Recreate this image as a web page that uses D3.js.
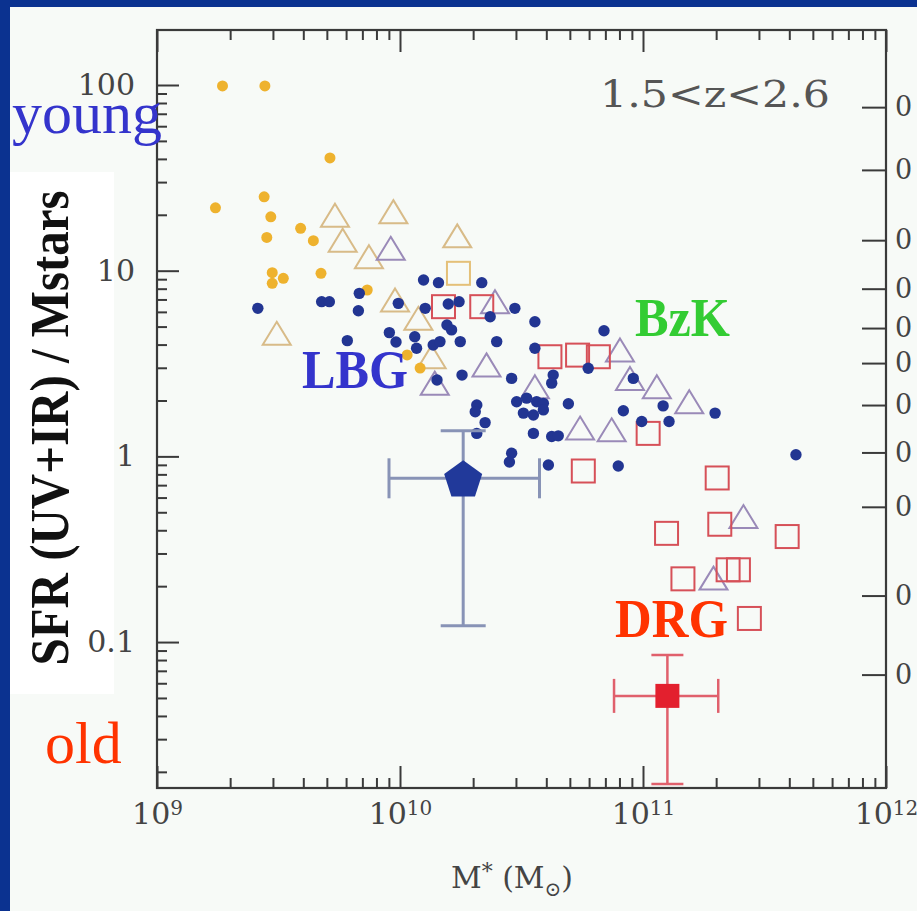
<!DOCTYPE html>
<html>
<head>
<meta charset="utf-8">
<script src="https://cdn.jsdelivr.net/npm/d3@7"></script>
<style>
  html, body { margin: 0; padding: 0; background: #f7faf7; overflow: hidden; }
  svg { display: block; }
</style>
</head>
<body>
<svg id="chart" width="917" height="911"></svg>
<script>
// Stellar mass (M_sun) and specific SFR for each galaxy sample, 1.5 < z < 2.6
const yellowDots = [
  [1.86e9, 98.8], [2.78e9, 98.8], [5.15e9, 40.5], [1.74e9, 21.8], [2.76e9, 25.0],
  [2.94e9, 19.5], [2.83e9, 15.1], [3.90e9, 16.9], [4.40e9, 14.5], [2.98e9, 9.75],
  [2.98e9, 8.55], [3.31e9, 9.10], [4.73e9, 9.68], [7.33e9, 7.87], [1.21e10, 2.99],
  [1.07e10, 3.52]
];
const blueDots = [
  [1.25e10, 8.91], [1.44e10, 8.62], [2.60e9, 6.27], [4.76e9, 6.81], [5.12e9, 6.81],
  [6.80e9, 7.55], [6.74e9, 6.09], [9.84e9, 6.67], [1.27e10, 6.27], [1.58e10, 6.62],
  [6.07e9, 4.20], [9.04e9, 4.64], [9.63e9, 4.13], [1.15e10, 4.41], [1.17e10, 3.82],
  [1.37e10, 3.98], [1.56e10, 5.10], [2.17e10, 8.62], [1.75e10, 6.81], [2.97e10, 6.27],
  [2.35e10, 5.65], [3.59e10, 5.31], [1.63e10, 4.80], [1.46e10, 4.15], [1.77e10, 4.15],
  [2.50e10, 4.15], [3.59e10, 3.82], [1.80e10, 2.74], [2.88e10, 2.63], [4.27e10, 2.74],
  [4.21e10, 2.48], [1.42e10, 2.58], [2.07e10, 1.89], [2.04e10, 1.74], [3.02e10, 1.97],
  [3.32e10, 2.06], [3.65e10, 1.97], [3.89e10, 1.93], [3.22e10, 1.71], [3.54e10, 1.67],
  [3.89e10, 1.78], [4.93e10, 1.92], [2.24e10, 1.52], [2.07e10, 1.33], [3.54e10, 1.33],
  [4.21e10, 1.28], [4.48e10, 1.29], [2.88e10, 1.04], [2.82e10, 0.933], [4.08e10, 0.899],
  [7.91e10, 0.888], [6.91e10, 4.75], [5.95e10, 2.98], [9.12e10, 2.63], [8.30e10, 1.76],
  [1.21e11, 1.87], [1.28e11, 1.54], [1.98e11, 1.71], [9.88e10, 1.54], [4.26e11, 1.02]
];
const tanTriangles = [
  [5.40e9, 19.9], [9.39e9, 20.8], [5.81e9, 14.6], [7.45e9, 11.9], [3.11e9, 4.60],
  [9.54e9, 6.95], [1.19e10, 5.54], [1.72e10, 15.4], [1.35e10, 3.44]
];
const tanSquares = [[1.74e10, 9.68]];
const purpleTriangles = [
  [9.16e9, 13.2], [2.46e10, 6.81], [2.27e10, 3.11], [1.39e10, 2.48], [3.59e10, 2.37],
  [8.04e10, 3.74], [8.84e10, 2.63], [1.14e11, 2.37], [1.55e11, 1.97], [5.51e10, 1.42],
  [7.43e10, 1.39], [2.59e11, 0.474], [1.95e11, 0.221]
];
const redSquares = [
  [1.51e10, 6.40], [2.17e10, 6.40], [4.14e10, 3.44], [5.38e10, 3.51], [6.55e10, 3.44],
  [1.05e11, 1.33], [5.68e10, 0.834], [2.02e11, 0.765], [2.07e11, 0.431], [1.25e11, 0.385],
  [3.92e11, 0.370], [2.24e11, 0.245], [2.47e11, 0.245], [1.46e11, 0.219], [2.74e11, 0.134]
];
// Sample medians with their spreads: [mass, sSFR, massLow, massHigh, sSFRLow, sSFRHigh]
const lbgMedian = [1.82e10, 0.762, 9.01e9, 3.75e10, 0.1225, 1.375];
const drgMedian = [1.26e11, 0.0513, 7.6e10, 2.04e11, 0.0172, 0.0852];

// Axis ticks and labels
const xLabelTicks = [1e9, 1e10, 1e11, 1e12];
const yLabelTicks = [100, 10, 1, 0.1];
const yLabelText = ["100", "10", "1", "0.1"];
const rightTicks = [76, 34.9, 14.6, 8.0, 4.91, 3.18, 1.89, 1.05, 0.535, 0.178, 0.0668];
const rightTickText = ["0", "0", "0", "0", "0", "0", "0", "0", "0", "0", "0"];

const svg = d3.select("#chart");
const W = 917, H = 911;
const plot = { left: 157, right: 886, top: 30, bottom: 788 };

// Slide frame
svg.append("rect").attr("x", 0).attr("y", 0).attr("width", W).attr("height", H).attr("fill", "#f7faf7");
svg.append("rect").attr("x", 10).attr("y", 172).attr("width", 104).attr("height", 522).attr("fill", "#ffffff");
svg.append("rect").attr("x", 0).attr("y", 0).attr("width", 10).attr("height", H).attr("fill", "#0b3290");
svg.append("rect").attr("x", 0).attr("y", 0).attr("width", W).attr("height", 7).attr("fill", "#0b3290");

const x = d3.scaleLog().domain([1e9, 1e12]).range([plot.left, plot.right]);
const y = d3.scaleLog().domain([0.01637, 197.8]).range([plot.bottom, plot.top]);

const isMajor = d => Math.abs(Math.log10(d) - Math.round(Math.log10(d))) < 1e-6;
const xMinor = x.ticks().filter(d => !isMajor(d));
const yMinor = y.ticks().filter(d => !isMajor(d));

const axisColor = "#3a3a3a";
const tickFont = "'DejaVu Serif', serif";

function styleAxis(g) {
  g.select(".domain").remove();
  g.selectAll(".tick line").attr("stroke", axisColor).attr("stroke-width", 2);
  g.selectAll(".tick text").attr("fill", "#444").attr("font-family", tickFont).attr("font-size", 30);
}

// Bottom axis
svg.append("g").attr("transform", `translate(0,${plot.bottom})`)
  .call(d3.axisBottom(x).tickValues(xMinor).tickSize(-10).tickFormat(""))
  .call(styleAxis);
const xAxisG = svg.append("g").attr("transform", `translate(0,${plot.bottom})`)
  .call(d3.axisBottom(x).tickValues(xLabelTicks).tickSize(-22).tickPadding(36)
    .tickFormat(d => String(Math.round(Math.log10(d)))))
  .call(styleAxis);
xAxisG.selectAll(".tick text").each(function(d) {
  const t = d3.select(this);
  const exp = t.text();
  t.text("").attr("dy", 0).attr("text-anchor", "middle");
  t.append("tspan").text("10");
  t.append("tspan").attr("dy", "-0.45em").attr("font-size", 20).text(exp);
});

// Top axis
svg.append("g").attr("transform", `translate(0,${plot.top})`)
  .call(d3.axisTop(x).tickValues(xMinor).tickSize(-10).tickFormat(""))
  .call(styleAxis);
svg.append("g").attr("transform", `translate(0,${plot.top})`)
  .call(d3.axisTop(x).tickValues(xLabelTicks).tickSize(-22).tickFormat(""))
  .call(styleAxis);

// Left axis
svg.append("g").attr("transform", `translate(${plot.left},0)`)
  .call(d3.axisLeft(y).tickValues(yMinor).tickSize(-10).tickFormat(""))
  .call(styleAxis);
svg.append("g").attr("transform", `translate(${plot.left},0)`)
  .call(d3.axisLeft(y).tickValues(yLabelTicks).tickSize(-22).tickPadding(22)
    .tickFormat((d, i) => yLabelText[i]))
  .call(styleAxis);

// Right axis (secondary scale)
svg.append("g").attr("transform", `translate(${plot.right},0)`)
  .call(d3.axisRight(y).tickValues(rightTicks).tickSize(-24).tickPadding(9)
    .tickFormat((d, i) => rightTickText[i]))
  .call(styleAxis)
  .call(g => g.selectAll(".tick text").attr("font-size", 27));

// Plot frame
svg.append("rect")
  .attr("x", plot.left).attr("y", plot.top)
  .attr("width", plot.right - plot.left).attr("height", plot.bottom - plot.top)
  .attr("fill", "none").attr("stroke", axisColor).attr("stroke-width", 2.2);

// Marker shapes
const triW = 28, triH = 23, sq = 23;
const triPath = `M0,${-triH / 2}L${triW / 2},${triH / 2}L${-triW / 2},${triH / 2}Z`;

const marks = svg.append("g");

function openTriangles(data, color) {
  marks.append("g").selectAll("path").data(data).join("path")
    .attr("d", triPath)
    .attr("transform", d => `translate(${x(d[0])},${y(d[1])})`)
    .attr("fill", "none").attr("stroke", color).attr("stroke-width", 2);
}
function openSquares(data, color) {
  marks.append("g").selectAll("rect").data(data).join("rect")
    .attr("x", d => x(d[0]) - sq / 2).attr("y", d => y(d[1]) - sq / 2)
    .attr("width", sq).attr("height", sq)
    .attr("fill", "none").attr("stroke", color).attr("stroke-width", 2);
}
function dots(data, color, r) {
  marks.append("g").selectAll("circle").data(data).join("circle")
    .attr("cx", d => x(d[0])).attr("cy", d => y(d[1])).attr("r", r)
    .attr("fill", color);
}

openTriangles(tanTriangles, "#d8bb88");
openSquares(tanSquares, "#e4c078");
openTriangles(purpleTriangles, "#9a8ab8");
openSquares(redSquares, "#d65058");
dots(yellowDots, "#eeb22e", 5.5);
dots(blueDots, "#223592", 5.7);

// Median points with error bars
function errorBars(m, color, capW, capH, width) {
  const g = marks.append("g").attr("stroke", color).attr("stroke-width", width);
  const cx = x(m[0]), cy = y(m[1]);
  g.append("line").attr("x1", x(m[2])).attr("x2", x(m[3])).attr("y1", cy).attr("y2", cy);
  g.append("line").attr("x1", cx).attr("x2", cx).attr("y1", y(m[4])).attr("y2", y(m[5]));
  [m[2], m[3]].forEach(v => g.append("line").attr("x1", x(v)).attr("x2", x(v))
    .attr("y1", cy - capH / 2).attr("y2", cy + capH / 2));
  [m[4], m[5]].forEach(v => g.append("line").attr("x1", cx - capW / 2).attr("x2", cx + capW / 2)
    .attr("y1", y(v)).attr("y2", y(v)));
}
errorBars(lbgMedian, "#8893b6", 45, 40, 3);
errorBars(drgMedian, "#e0606c", 32, 34, 2.5);

const pentR = 20;
const pentagon = d3.range(5).map(i => {
  const a = -Math.PI / 2 + i * 2 * Math.PI / 5;
  return [pentR * Math.cos(a), pentR * Math.sin(a)];
});
marks.append("path")
  .attr("d", d3.line()(pentagon) + "Z")
  .attr("transform", `translate(${x(lbgMedian[0])},${y(lbgMedian[1]) + 2})`)
  .attr("fill", "#21399a");
marks.append("rect")
  .attr("x", x(drgMedian[0]) - 12).attr("y", y(drgMedian[1]) - 12)
  .attr("width", 24).attr("height", 24).attr("fill", "#e3202e");

// Texts
const serif = "'Liberation Serif', 'Times New Roman', serif";
svg.append("text").attr("x", 715).attr("y", 107).attr("text-anchor", "middle")
  .attr("font-family", tickFont).attr("font-size", 37).attr("fill", "#555")
  .attr("textLength", 230).attr("lengthAdjust", "spacingAndGlyphs")
  .text("1.5<z<2.6");

svg.append("text").attr("x", 12).attr("y", 133)
  .attr("font-family", serif).attr("font-size", 60).attr("fill", "#3434cc")
  .text("young");
svg.append("text").attr("x", 45).attr("y", 763)
  .attr("font-family", serif).attr("font-size", 60).attr("fill", "#ff3300")
  .text("old");

svg.append("text").attr("x", 302).attr("y", 388)
  .attr("font-family", serif).attr("font-weight", "bold").attr("font-size", 54).attr("fill", "#3434cc")
  .attr("textLength", 106).attr("lengthAdjust", "spacingAndGlyphs").text("LBG");
svg.append("text").attr("x", 635).attr("y", 336)
  .attr("font-family", serif).attr("font-weight", "bold").attr("font-size", 54).attr("fill", "#33cc33")
  .attr("textLength", 95).attr("lengthAdjust", "spacingAndGlyphs").text("BzK");
svg.append("text").attr("x", 615).attr("y", 637)
  .attr("font-family", serif).attr("font-weight", "bold").attr("font-size", 54).attr("fill", "#ff3300")
  .attr("textLength", 113).attr("lengthAdjust", "spacingAndGlyphs").text("DRG");

svg.append("text")
  .attr("transform", "translate(68,428) rotate(-90)")
  .attr("text-anchor", "middle")
  .attr("font-family", serif).attr("font-weight", "bold").attr("font-size", 54).attr("fill", "#111")
  .attr("textLength", 475).attr("lengthAdjust", "spacingAndGlyphs")
  .text("SFR (UV+IR) / Mstars");

const xt = svg.append("text").attr("x", 512).attr("y", 888).attr("text-anchor", "middle")
  .attr("font-family", tickFont).attr("font-size", 30).attr("fill", "#444");
xt.append("tspan").text("M");
xt.append("tspan").attr("dy", -9).attr("font-size", 22).text("*");
xt.append("tspan").attr("dy", 9).text(" (M");
xt.append("tspan").attr("dy", 8).attr("font-size", 20).text("⊙");
xt.append("tspan").attr("dy", -8).text(")");
</script>
</body>
</html>
